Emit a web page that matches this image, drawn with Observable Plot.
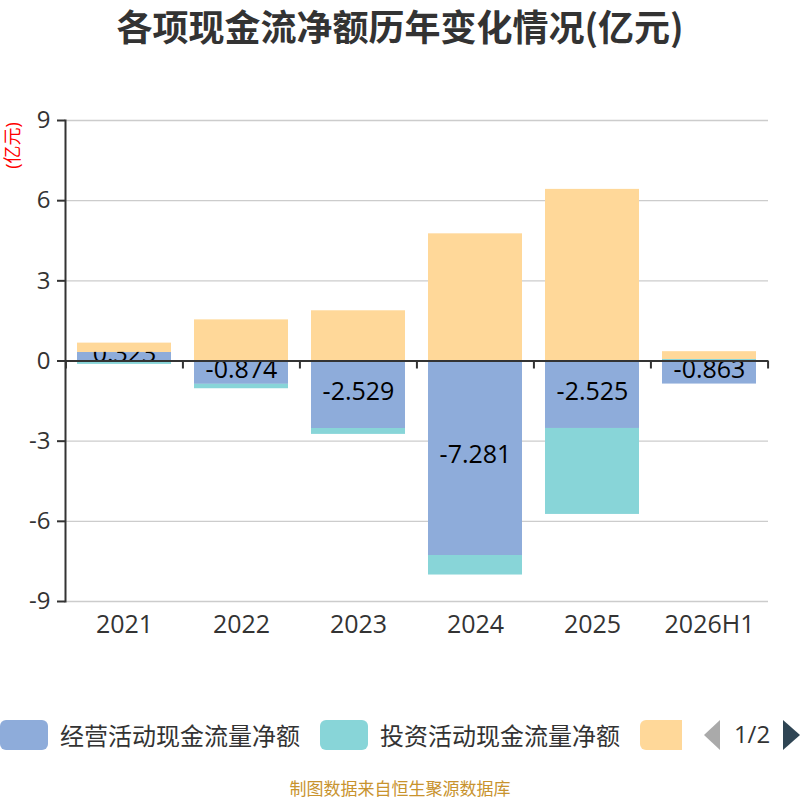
<!DOCTYPE html>
<html>
<head>
<meta charset="utf-8">
<script src="https://cdn.jsdelivr.net/npm/d3@7"></script>
<script src="https://cdn.jsdelivr.net/npm/@observablehq/plot@0.6"></script>
<style>
  body { margin: 0; background: #fff; }
  #wrap { position: relative; width: 800px; height: 800px; overflow: hidden; background: #fff;
          font-family: "Open Sans", "Noto Sans CJK SC", sans-serif; }
  #title { position: absolute; top: 0; left: 0; width: 800px; text-align: center;
           font-family: "Noto Sans CJK SC", sans-serif; font-weight: bold; font-size: 36px;
           color: #333; line-height: 50px; }
  #chart { position: absolute; top: 0; left: 0; }
  #legend { position: absolute; top: 720px; left: 0; width: 800px; height: 30px; }
  .sw { position: absolute; top: 0; height: 30px; border-radius: 6px; }
  .lt { position: absolute; top: 0; height: 30px; line-height: 30px; font-size: 24px; color: #333;
        font-family: "Noto Sans CJK SC", sans-serif; white-space: nowrap; }
  #source { position: absolute; top: 775px; left: 0; width: 800px; text-align: center;
            font-family: "Noto Sans CJK SC", sans-serif; font-size: 17px; color: #c8932e; }
</style>
</head>
<body>
<div id="wrap">
  <div id="title"></div>
  <div id="chart"></div>
  <div id="legend"></div>
  <div id="source"></div>
</div>
<script>
// ---- data ----
const titleText = "各项现金流净额历年变化情况(亿元)";
const unitText = "(亿元)";
const sourceText = "制图数据来自恒生聚源数据库";
const years = ["2021", "2022", "2023", "2024", "2025", "2026H1"];
const seriesNames = ["经营活动现金流量净额", "投资活动现金流量净额", "筹资活动现金流量净额"];
const seriesColors = ["#8eacda", "#88d5d8", "#ffd899"];
const operating = [0.323, -0.874, -2.529, -7.281, -2.525, -0.863];
const investing = [-0.12, -0.16, -0.21, -0.72, -3.21, 0.06];
const financing = [0.34, 1.53, 1.87, 4.75, 6.42, 0.28];
const yTicks = [-9, -6, -3, 0, 3, 6, 9];
const pageText = "1/2";

// ---- table ----
const seriesValues = [operating, investing, financing];
const rows = [];
years.forEach((yr, i) => {
  seriesNames.forEach((s, k) => rows.push({ year: yr, s, v: seriesValues[k][i] }));
});
const opRows = rows.filter(d => d.s === seriesNames[0]);

document.getElementById("title").textContent = titleText;
document.getElementById("source").textContent = sourceText;

const W = 800, H = 660, mL = 65, mR = 32, mT = 120, mB = 59;
const step = (W - mL - mR) / years.length;
const font = '"Open Sans", "Noto Sans CJK SC", sans-serif';

const chart = Plot.plot({
  width: W, height: H,
  marginLeft: mL, marginRight: mR, marginTop: mT, marginBottom: mB,
  style: { fontFamily: font, fontSize: "24px", color: "#333", background: "transparent", overflow: "visible" },
  x: { domain: years, paddingInner: 0.2, paddingOuter: 0.1, label: null },
  y: { domain: [-9, 9], label: null },
  color: { domain: seriesNames, range: seriesColors },
  opacity: { domain: [0, 1], range: [0, 1] },
  marks: [
    Plot.gridY(yTicks, { stroke: "#cccccc", strokeOpacity: 1, strokeWidth: 1.3 }),
    Plot.barY(rows, Plot.stackY({ x: "year", y: "v", z: "s", fill: "s" })),
    Plot.text(opRows, Plot.stackY({ x: "year", y: "v", text: d => d.v.toFixed(3),
      fontSize: 25, fill: "#000", fontFamily: font, dy: -3 })),
    Plot.barY(rows, Plot.stackY({ x: "year", y: "v", z: "s", fill: "s",
      fillOpacity: d => (d.s === seriesNames[0] ? 0 : 1) })),
    Plot.ruleY([0], { stroke: "#333", strokeWidth: 2 }),
    Plot.ruleX(years, { x: d => d, y1: 0, y2: 0, insetBottom: -8, dx: -step / 2, stroke: "#333", strokeWidth: 2 }),
    Plot.ruleX([years[years.length - 1]], { x: d => d, y1: 0, y2: 0, insetBottom: -8, dx: step / 2, stroke: "#333", strokeWidth: 2 }),
    Plot.frame({ anchor: "left", stroke: "#333", strokeWidth: 2 }),
    Plot.axisY({ ticks: yTicks, tickFormat: d => String(d), tickSize: 8, tickPadding: 7, fontSize: 24,
      stroke: "#333", strokeWidth: 2, color: "#333", label: null }),
    Plot.axisX({ tickSize: 0, tickPadding: 14, fontSize: 25, color: "#333", label: null }),
    Plot.text([unitText], { frameAnchor: "top-left", rotate: -90, dx: -52, dy: 25,
      textAnchor: "middle", lineAnchor: "middle", fill: "red", fontSize: 18, fontFamily: font })
  ]
});
document.getElementById("chart").appendChild(chart);

// ---- legend ----
const legend = document.getElementById("legend");
const legendLayout = [
  { sw: 0, swW: 48, tx: 60 },
  { sw: 320, swW: 48, tx: 380 },
  { sw: 640, swW: 42, tx: null }
];
seriesNames.forEach((name, k) => {
  const L = legendLayout[k];
  const sw = document.createElement("div");
  sw.className = "sw";
  sw.style.left = L.sw + "px";
  sw.style.width = L.swW + "px";
  sw.style.background = seriesColors[k];
  if (k === 2) { sw.style.borderTopRightRadius = "0"; sw.style.borderBottomRightRadius = "0"; }
  legend.appendChild(sw);
  if (L.tx !== null) {
    const t = document.createElement("div");
    t.className = "lt";
    t.style.left = L.tx + "px";
    t.textContent = name;
    legend.appendChild(t);
  }
});
// pager
const pager = document.createElementNS("http://www.w3.org/2000/svg", "svg");
pager.setAttribute("width", "110");
pager.setAttribute("height", "40");
pager.style.position = "absolute";
pager.style.left = "690px";
pager.style.top = "-5px";
pager.innerHTML =
  '<path d="M14,20 L30,5 L30,35 Z" fill="#aaaaaa"/>' +
  '<text x="62" y="28" text-anchor="middle" font-size="24" fill="#333" font-family=\'"Open Sans", sans-serif\'>' + pageText + '</text>' +
  '<path d="M110,20 L93,5 L93,35 Z" fill="#2f4554"/>';
legend.appendChild(pager);
</script>
</body>
</html>
